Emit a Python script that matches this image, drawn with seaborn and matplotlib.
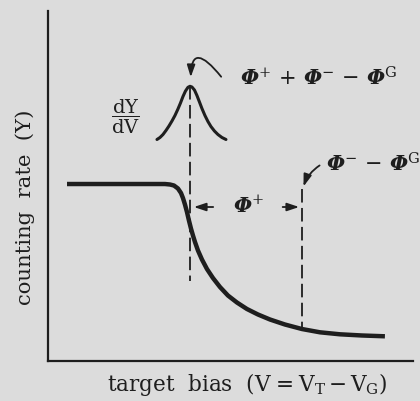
import numpy as np
import pandas as pd
import matplotlib
matplotlib.use("Agg")
import matplotlib.pyplot as plt
import seaborn as sns

# Counting rate Y versus target bias V (arbitrary units)
bias = [0.534, 1.984, 3.215, 3.352, 3.461, 3.570, 3.653, 3.707, 3.762, 3.817,
        3.871, 3.926, 3.981, 4.036, 4.118, 4.227, 4.364, 4.528, 4.720, 4.938,
        5.185, 5.458, 5.759, 6.088, 6.498, 6.963, 7.456, 8.003, 8.605, 9.234]
rate = [5.057, 5.057, 5.057, 5.043, 5.014, 4.929, 4.800, 4.657, 4.471, 4.257,
        4.014, 3.786, 3.586, 3.400, 3.157, 2.900, 2.629, 2.371, 2.114, 1.871,
        1.671, 1.486, 1.329, 1.186, 1.043, 0.914, 0.820, 0.763, 0.729, 0.706]

# Derivative dY/dV, drawn as a peak above the step
deriv_bias = [2.996, 3.078, 3.160, 3.242, 3.324, 3.406, 3.488, 3.570, 3.639,
              3.707, 3.776, 3.844, 3.899, 3.953, 4.022, 4.090, 4.159, 4.227,
              4.309, 4.391, 4.473, 4.569, 4.665, 4.774, 4.884]
deriv_val = [6.329, 6.386, 6.471, 6.586, 6.714, 6.857, 7.014, 7.200, 7.371,
             7.557, 7.714, 7.820, 7.849, 7.829, 7.743, 7.586, 7.400, 7.214,
             7.014, 6.843, 6.700, 6.571, 6.471, 6.386, 6.329]

# Characteristic bias values
v_peak = 3.899   # phi+ + phi- - phiG
v_cut = 6.963    # phi- - phiG

curve = pd.DataFrame({"V": bias, "Y": rate})
peak = pd.DataFrame({"V": deriv_bias, "dYdV": deriv_val})

sns.set_theme(style="white")
ink = "#1e1e1e"
paper = "#dcdcdc"
plt.rcParams["font.family"] = ["DejaVu Serif"]
plt.rcParams["mathtext.fontset"] = "custom"
plt.rcParams["mathtext.rm"] = "DejaVu Serif"
plt.rcParams["mathtext.it"] = "DejaVu Serif:italic"
# \mathbf is used for the slanted potential symbol
plt.rcParams["mathtext.bf"] = "DejaVu Serif:italic:bold"

fig = plt.figure(figsize=(4.2, 4.02), dpi=100, facecolor=paper)
ax = fig.add_axes([0.1131, 0.0995, 0.870, 0.8706])
ax.set_facecolor(paper)

sns.lineplot(data=curve, x="V", y="Y", ax=ax, color=ink, lw=3.2,
             solid_capstyle="butt", solid_joinstyle="round", sort=False)
sns.lineplot(data=peak, x="V", y="dYdV", ax=ax, color=ink, lw=2.2,
             solid_capstyle="round", solid_joinstyle="round", sort=False)

dash = (0, (7.5, 3))
ax.plot([v_peak, v_peak], [max(deriv_val), 2.29], color=ink, lw=1.3, linestyle=dash)
cut_y = rate[bias.index(v_cut)]
ax.plot([v_cut, v_cut], [4.91, cut_y], color=ink, lw=1.3, linestyle=dash)

ax.set_xlim(0, 10)
ax.set_ylim(0, 10)
ax.set_xticks([])
ax.set_yticks([])
for s in ["top", "right"]:
    ax.spines[s].set_visible(False)
for s in ["left", "bottom"]:
    ax.spines[s].set_color(ink)
    ax.spines[s].set_linewidth(1.6)

head = "-|>,head_length=0.6,head_width=0.2"
PHI = r"\mathbf{Φ}"
# phi+ span between the two dashed lines
ax.annotate("", xy=(v_peak + 0.03, 4.40), xytext=(4.61, 4.40),
            arrowprops=dict(arrowstyle=head, color=ink, lw=1.3, mutation_scale=12))
ax.annotate("", xy=(v_cut, 4.40), xytext=(6.36, 4.40),
            arrowprops=dict(arrowstyle=head, color=ink, lw=1.3, mutation_scale=12))
ax.text(5.49, 4.46, rf"${PHI}^{{+}}$", ha="center", va="center",
        fontsize=15, color=ink)

# peak position label
ax.annotate("", xy=(v_peak + 0.02, 8.03), xytext=(4.80, 8.06),
            arrowprops=dict(arrowstyle=head, color=ink, lw=1.3, mutation_scale=12,
                            connectionstyle="angle3,angleA=128,angleB=90"))
ax.text(5.27, 8.11, rf"${PHI}^{{+}}\,+\,{PHI}^{{-}}\,-\,{PHI}^{{\mathrm{{G}}}}$",
        ha="left", va="center", fontsize=15, color=ink)

# cut-off label
ax.annotate("", xy=(v_cut + 0.02, 4.91), xytext=(7.51, 5.63),
            arrowprops=dict(arrowstyle=head, color=ink, lw=1.3, mutation_scale=12,
                            connectionstyle="arc3,rad=0.2"))
ax.text(7.62, 5.66, rf"${PHI}^{{-}}\,-\,{PHI}^{{\mathrm{{G}}}}$",
        ha="left", va="center", fontsize=15, color=ink, clip_on=False)

ax.text(2.12, 7.0, r"$\dfrac{\mathrm{dY}}{\mathrm{dV}}$", ha="center", va="center",
        fontsize=14, color=ink)

ax.set_xlabel(r"target  bias  (V$\;$=$\;$V$_{\mathrm{T}}$$\,$$-$$\,$V$_{\mathrm{G}}$)",
              fontsize=15.5, color=ink)
ax.xaxis.set_label_coords(0.546, -0.026)
ax.xaxis.label.set_va("top")
ax.set_ylabel("counting  rate  (Y)", fontsize=15.2, color=ink)
ax.yaxis.set_label_coords(-0.062, 0.443)
ax.yaxis.label.set_va("center")

fig.savefig("out.png", dpi=100, facecolor=paper)
